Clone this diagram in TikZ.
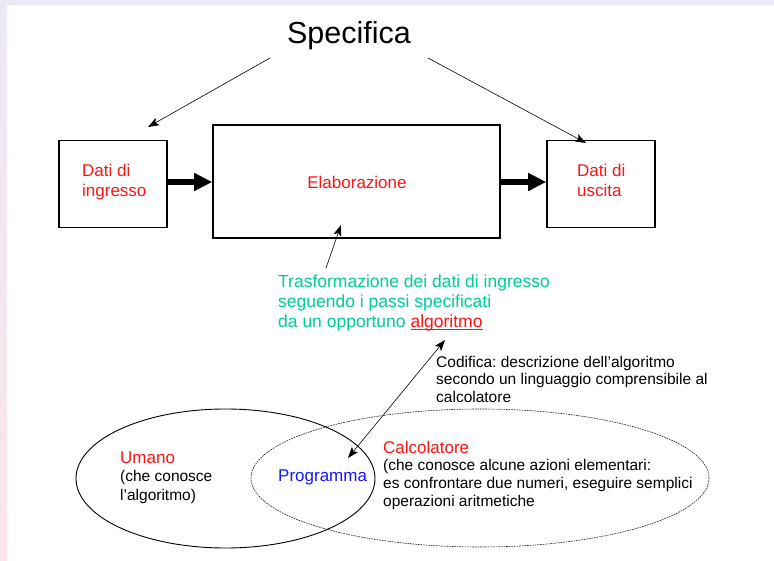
\documentclass[tikz,border=0pt]{standalone}
\usepackage{fontspec}
\setmainfont{Liberation Sans}
\usetikzlibrary{arrows.meta}
\definecolor{tgreen}{RGB}{0,204,153}
\definecolor{tred}{RGB}{255,20,20}
\definecolor{tblue}{RGB}{20,20,255}
\definecolor{bandtop}{RGB}{236,233,245}
\definecolor{bandpink}{RGB}{252,228,234}
\newcommand\ulred[1]{\setbox0\hbox{#1}\rlap{\rule[-1.8pt]{\wd0}{0.9pt}}\box0}
\frenchspacing
\begin{document}
\begin{tikzpicture}[x=1pt,y=-1pt,
  box/.style={draw, line width=1.6pt, inner sep=0pt},
  big/.style={anchor=base west, inner sep=0pt, font=\fontsize{17}{20}\selectfont},
  small/.style={anchor=base west, inner sep=0pt, font=\fontsize{15.5}{18}\selectfont},
  thinarr/.style={-{Stealth[length=11pt,width=8pt,inset=2.5pt]}, line width=0.6pt},
  dblarr/.style={{Stealth[length=11pt,width=8pt,inset=2.5pt]}-{Stealth[length=11pt,width=8pt,inset=2.5pt]}, line width=0.6pt},
  thickarr/.style={-{Triangle[length=18pt,width=17pt]}, line width=6pt},
  setline/.style={line width=0.9pt}
]
\useasboundingbox (0,0) rectangle (774,561);
\fill[white] (0,0) rectangle (774,561);
\fill[bandtop] (0,0) rectangle (774,5);
\shade[top color=bandtop,bottom color=bandpink] (0,0) rectangle (7,561);

% title
\node[anchor=base, inner sep=0pt, font=\fontsize{30.5}{34}\selectfont] (spec) at (349,44) {Specifica};
\coordinate (sL) at (270,58);
\coordinate (sR) at (428,58);
\coordinate (tipL) at (148,127);
\coordinate (tipR) at (586,143);
\draw[thinarr] (sL) -- (tipL);
\draw[thinarr] (sR) -- (tipR);

% boxes
\node[box, minimum width=108pt, minimum height=87pt] (din) at (113,184) {};
\node[box, minimum width=287pt, minimum height=113pt] (elab) at (356.5,181.5) {};
\node[box, minimum width=108pt, minimum height=87pt] (dout) at (601,184) {};

\node[big, text=tred] (din1) at (82,177) {Dati di};
\node[big, text=tred] (din2) at (82,197) {ingresso};
\node[anchor=base, inner sep=0pt, font=\fontsize{17}{20}\selectfont, text=tred] (elabt) at (357,189) {Elaborazione};
\node[big, text=tred] (dout1) at (577,177) {Dati di};
\node[big, text=tred] (dout2) at (577,197) {uscita};

\draw[thickarr] ([yshift=2pt]din.east) -- ([yshift=2pt]din.east -| elab.west);
\draw[thickarr] ([yshift=2pt]elab.east |- din.east) -- ([yshift=2pt]din.east -| dout.west);

% transformation text
\node[big, font=\fontsize{17.5}{20}\selectfont, text=tgreen] (g1) at (278,288) {Trasformazione dei dati di ingresso};
\node[big, font=\fontsize{17.5}{20}\selectfont, text=tgreen] (g2) at (278,308) {seguendo i passi specificati};
\node[big, font=\fontsize{17.5}{20}\selectfont, text=tgreen] (g3) at (278,328) {da un opportuno \textcolor{tred}{\ulred{algoritmo}}};
\coordinate (gA) at (326,268);
\coordinate (gB) at (341,225);
\draw[thinarr] (gA) -- (gB);

% codifica
\node[small] (c1) at (436,367) {Codifica: descrizione dell’algoritmo};
\node[small] (c2) at (436,384.5) {secondo un linguaggio comprensibile al};
\node[small] (c3) at (436,402) {calcolatore};

% ellipses
\draw[line width=0.6pt, black!90, dash pattern=on 1.6pt off 1pt] (480,478) ellipse [x radius=229pt, y radius=69pt];
\draw[setline] (225.5,478.5) ellipse [x radius=149.5pt, y radius=69.5pt];

\coordinate (pA) at (348,458);
\coordinate (pB) at (445,340);
\draw[dblarr] (pA) -- (pB);

% Umano
\node[big, text=tred] (u1) at (120,463) {Umano};
\node[small] (u2) at (120,481.5) {(che conosce};
\node[small] (u3) at (120,500) {l’algoritmo)};

% Programma
\node[big, text=tblue] (prog) at (278,481) {Programma};

% Calcolatore
\node[big, text=tred] (k1) at (383,453) {Calcolatore};
\node[small] (k2) at (383,470.5) {(che conosce alcune azioni elementari:};
\node[small] (k3) at (383,488.5) {es confrontare due numeri, eseguire semplici};
\node[small] (k4) at (383,506.5) {operazioni aritmetiche};
\end{tikzpicture}
\end{document}
